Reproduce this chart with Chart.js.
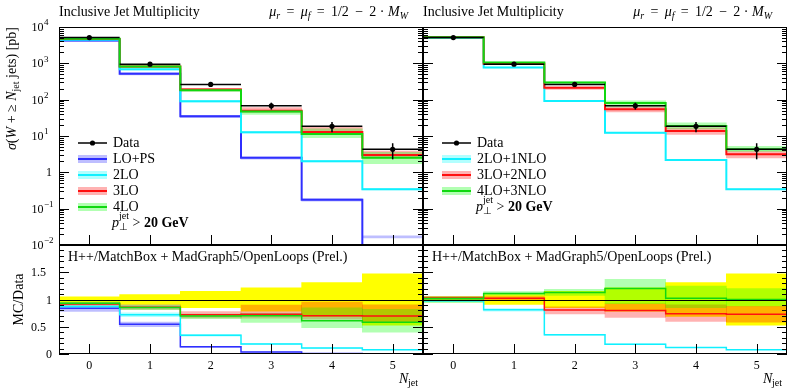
<!DOCTYPE html>
<html>
<head>
<meta charset="utf-8">
<script src="https://cdn.jsdelivr.net/npm/chart.js@4.4.0/dist/chart.umd.min.js"></script>
<style>
html, body { margin: 0; padding: 0; background: #fff; }
#wrap { position: relative; width: 788px; height: 388px; }
#wrap canvas { position: absolute; left: 0; top: 0; }
</style>
</head>
<body>
<div id="wrap">
<canvas id="topLeft" width="788" height="388"></canvas>
<canvas id="topRight" width="788" height="388"></canvas>
<canvas id="ratioLeft" width="788" height="388"></canvas>
<canvas id="ratioRight" width="788" height="388"></canvas>
</div>
<script>
// jet multiplicity bins
var nJet = [0, 1, 2, 3, 4, 5];
// measured cross sections [pb] and relative uncertainty
var dataXsec = [5100, 950, 262, 68, 18.5, 4.3];
var dataRelErr = [0.05, 0.09, 0.15, 0.215, 0.31, 0.47];

// left: LO merging, central values [pb] and scale-variation band (relative)
var loPS = [4280, 518, 34.8, 2.5, 0.176, 0.004];
var loPSLow = [0.93, 0.92, 0.92, 0.92, 0.92, 3.9];
var loPSHigh = [1.04, 1.07, 1.07, 1.07, 1.07, 4.5];
var lo2 = [4440, 684, 90, 12.6, 2.03, 0.344];
var lo2Low = [0.97, 0.95, 0.95, 0.95, 0.95, 0.95];
var lo2High = [1.03, 1.05, 1.05, 1.05, 1.05, 1.05];
var lo3 = [4690, 817, 189, 49.6, 12.95, 3.0];
var lo3Low = [0.97, 0.95, 0.92, 0.90, 0.91, 0.83];
var lo3High = [1.03, 1.05, 1.08, 1.23, 1.36, 1.29];
var lo4 = [4740, 812, 183, 47.6, 11.3, 2.5];
var lo4Low = [0.97, 0.95, 0.93, 0.83, 0.79, 0.69];
var lo4High = [1.03, 1.05, 1.05, 1.07, 1.39, 1.41];

// right: NLO merging
var nlo1 = [4950, 770, 92, 12.2, 2.2, 0.344];
var nlo1Low = [0.97, 0.97, 0.97, 0.97, 0.97, 0.97];
var nlo1High = [1.03, 1.03, 1.03, 1.03, 1.03, 1.03];
var nlo2 = [5250, 970, 212, 54.4, 13.7, 3.14];
var nlo2Low = [0.97, 0.97, 0.91, 0.84, 0.81, 0.80];
var nlo2High = [1.03, 1.03, 1.07, 1.15, 1.22, 1.20];
var nlo3 = [5200, 1055, 296, 81.6, 18.9, 4.3];
var nlo3Low = [0.97, 0.97, 0.95, 0.77, 0.83, 0.88];
var nlo3High = [1.03, 1.03, 1.05, 1.14, 1.22, 1.20];

// axis ticks
var logTicks = [0.01, 0.1, 1, 10, 100, 1000, 10000];
var logTickLabels = [['10', '−2'], ['10', '−1'], ['1', ''], ['10', '1'], ['10', '2'], ['10', '3'], ['10', '4']];
var ratioTicks = [0, 0.5, 1, 1.5];
var ratioTickLabels = ['0', '0.5', '1', '1.5'];

var SERIF = '"Liberation Serif", "Times New Roman", serif';
function font(size, style) { return (style || '') + ' ' + size + 'px ' + SERIF; }

var BLUE = '#2f2fff', CYAN = '#10f0ff', RED = '#ff1010', GREEN = '#10d810';
var leftSeries = [
    {label: 'LO+PS', vals: loPS, low: loPSLow, high: loPSHigh, color: BLUE, band: 'rgba(40,40,255,0.3)'},
    {label: '2LO', vals: lo2, low: lo2Low, high: lo2High, color: CYAN, band: 'rgba(0,255,255,0.3)'},
    {label: '3LO', vals: lo3, low: lo3Low, high: lo3High, color: RED, band: 'rgba(255,0,0,0.3)'},
    {label: '4LO', vals: lo4, low: lo4Low, high: lo4High, color: GREEN, band: 'rgba(0,255,0,0.3)'}
];
var rightSeries = [
    {label: '2LO+1NLO', vals: nlo1, low: nlo1Low, high: nlo1High, color: CYAN, band: 'rgba(0,255,255,0.3)'},
    {label: '3LO+2NLO', vals: nlo2, low: nlo2Low, high: nlo2High, color: RED, band: 'rgba(255,0,0,0.3)'},
    {label: '4LO+3NLO', vals: nlo3, low: nlo3Low, high: nlo3High, color: GREEN, band: 'rgba(0,255,0,0.3)'}
];

function steps(vals) {
    var pts = vals.map(function(v, i) { return {x: nJet[i] - 0.5, y: v}; });
    pts.push({x: nJet[nJet.length - 1] + 0.5, y: vals[vals.length - 1]});
    return pts;
}

function buildSets(series, ratio) {
    var sets = [];
    if (ratio) {
        sets.push({type: 'bar', data: dataRelErr.map(function(e) { return [1 - e, 1 + e]; }),
            backgroundColor: '#ffff00', borderWidth: 0, grouped: false,
            barPercentage: 1, categoryPercentage: 1, order: 20, xAxisID: 'x'});
    }
    series.forEach(function(s, k) {
        var c = ratio ? s.vals.map(function(v, i) { return v / dataXsec[i]; }) : s.vals;
        sets.push({type: 'bar', data: c.map(function(v, i) { return [v * s.low[i], v * s.high[i]]; }),
            backgroundColor: s.band, borderWidth: 0, grouped: false,
            barPercentage: 1, categoryPercentage: 1, order: 10 - k, xAxisID: 'x'});
        sets.push({type: 'line', data: steps(c), borderColor: s.color, borderWidth: ratio ? 1.5 : 2,
            pointRadius: 0, stepped: true, fill: false, order: 5 - k, xAxisID: 'xl'});
    });
    return sets;
}

function line(ctx, x0, y0, x1, y1) {
    ctx.beginPath(); ctx.moveTo(x0, y0); ctx.lineTo(x1, y1); ctx.stroke();
}

// parts: {t, f, dy, stay}
function richText(ctx, parts, x, y, align) {
    var w = 0;
    parts.forEach(function(p) { ctx.font = p.f; if (!p.stay) w += ctx.measureText(p.t).width; });
    var cx = align === 'right' ? x - w : (align === 'center' ? x - w / 2 : x);
    parts.forEach(function(p) {
        ctx.font = p.f;
        ctx.fillText(p.t, cx, y + (p.dy || 0));
        if (!p.stay) cx += ctx.measureText(p.t).width;
    });
}

function frameTicks(chart, log) {
    var ctx = chart.ctx, a = chart.chartArea, y = chart.scales.y, xl = chart.scales.xl;
    ctx.save();
    ctx.strokeStyle = '#000';
    ctx.lineWidth = 1;
    ctx.strokeRect(a.left + 0.5, a.top + 0.5, a.right - a.left - 1, a.bottom - a.top - 1);
    var major = [], minor = [];
    if (log) {
        logTicks.forEach(function(t) { major.push(t); });
        for (var d = -2; d < 4; d++) {
            for (var k = 2; k <= 9; k++) minor.push(k * Math.pow(10, d));
        }
    } else {
        for (var r = 0; r <= 20; r++) {
            if (r % 5 === 0) major.push(r / 10); else minor.push(r / 10);
        }
    }
    major.forEach(function(v) {
        var py = Math.round(y.getPixelForValue(v)) + 0.5;
        line(ctx, a.left, py, a.left + 10, py);
        line(ctx, a.right - 10, py, a.right, py);
    });
    minor.forEach(function(v) {
        var py = Math.round(y.getPixelForValue(v)) + 0.5;
        line(ctx, a.left, py, a.left + 5, py);
        line(ctx, a.right - 5, py, a.right, py);
    });
    nJet.forEach(function(n) {
        var px = Math.round(xl.getPixelForValue(n)) + 0.5;
        line(ctx, px, a.bottom, px, a.bottom - 10);
    });
    ctx.restore();
}

function drawData(chart) {
    var ctx = chart.ctx, y = chart.scales.y, xl = chart.scales.xl;
    ctx.save();
    ctx.strokeStyle = '#000'; ctx.fillStyle = '#000'; ctx.lineWidth = 1.5;
    nJet.forEach(function(n, i) {
        var v = dataXsec[i], e = v * dataRelErr[i];
        var py = y.getPixelForValue(v), xc = xl.getPixelForValue(n);
        line(ctx, xl.getPixelForValue(n - 0.5), py, xl.getPixelForValue(n + 0.5), py);
        line(ctx, xc, y.getPixelForValue(v + e), xc, y.getPixelForValue(v - e));
        ctx.beginPath(); ctx.arc(xc, py, 2.6, 0, Math.PI * 2); ctx.fill();
    });
    ctx.restore();
}

function drawRatioLine(chart) {
    var ctx = chart.ctx, a = chart.chartArea, py = Math.round(chart.scales.y.getPixelForValue(1)) + 0.5;
    ctx.save(); ctx.strokeStyle = '#000'; ctx.lineWidth = 1;
    line(ctx, a.left, py, a.right, py);
    ctx.restore();
}

function titles(ctx, a) {
    ctx.fillStyle = '#000';
    ctx.textBaseline = 'alphabetic';
    ctx.textAlign = 'left';
    ctx.font = font(14);
    ctx.fillText('Inclusive Jet Multiplicity', a.left, 16);
    richText(ctx, [
        {t: 'μ', f: font(14, 'italic')}, {t: 'r', f: font(10, 'italic'), dy: 3},
        {t: ' \u2009=\u2009 ', f: font(14)},
        {t: 'μ', f: font(14, 'italic')}, {t: 'f', f: font(10, 'italic'), dy: 3},
        {t: ' \u2009=\u2009 1/2 \u2009−\u2009 2 · ', f: font(14)},
        {t: 'M', f: font(14, 'italic')}, {t: 'W', f: font(10, 'italic'), dy: 3}
    ], a.right - 15, 16, 'right');
}

function legend(ctx, x0, y0, series) {
    ctx.save();
    ctx.textAlign = 'left'; ctx.textBaseline = 'alphabetic'; ctx.fillStyle = '#000';
    ctx.strokeStyle = '#000'; ctx.lineWidth = 1.5;
    line(ctx, x0, y0, x0 + 29, y0);
    ctx.beginPath(); ctx.arc(x0 + 14.5, y0, 2.6, 0, Math.PI * 2); ctx.fill();
    ctx.font = font(14);
    ctx.fillText('Data', x0 + 35, y0 + 4);
    series.forEach(function(s, k) {
        var yc = y0 + 16 * (k + 1);
        ctx.fillStyle = s.band;
        ctx.fillRect(x0, yc - 4, 29, 8);
        ctx.strokeStyle = s.color; ctx.lineWidth = 2;
        line(ctx, x0, yc, x0 + 29, yc);
        ctx.fillStyle = '#000';
        ctx.font = font(14);
        ctx.fillText(s.label, x0 + 35, yc + 4);
    });
    var yb = y0 + 16 * (series.length + 1) + 4;
    richText(ctx, [
        {t: 'p', f: font(14, 'italic')},
        {t: '⊥', f: font(10), dy: 3, stay: true},
        {t: 'jet', f: font(10), dy: -8},
        {t: ' > ', f: font(14)},
        {t: '20 GeV', f: font(14, 'bold')}
    ], x0 + 34, yb, 'left');
    ctx.restore();
}

function xLabels(ctx, chart) {
    var a = chart.chartArea, xl = chart.scales.xl;
    ctx.fillStyle = '#000'; ctx.textBaseline = 'alphabetic'; ctx.textAlign = 'center';
    ctx.font = font(12);
    nJet.forEach(function(n) { ctx.fillText(String(n), xl.getPixelForValue(n), 369); });
    richText(ctx, [{t: 'N', f: font(14, 'italic')}, {t: 'jet', f: font(10), dy: 3}], a.right, 383, 'right');
    ctx.textAlign = 'left';
    ctx.font = font(14);
    ctx.fillText('H++/MatchBox + MadGraph5/OpenLoops (Prel.)', a.left + 9, 261);
}

function makeChart(id, pad, yScale, sets, after, text) {
    return new Chart(document.getElementById(id), {
        type: 'bar',
        data: {labels: nJet.map(String), datasets: sets},
        options: {
            responsive: false,
            animation: false,
            events: [],
            layout: {padding: pad},
            plugins: {legend: {display: false}, tooltip: {enabled: false}},
            scales: {
                x: {type: 'category', offset: true, display: false},
                xl: {type: 'linear', axis: 'x', position: 'bottom', offset: false, min: -0.5, max: 5.5, display: false},
                y: Object.assign({display: false, stacked: false}, yScale)
            }
        },
        plugins: [{
            id: 'deco',
            afterDatasetsDraw: function(chart) { after(chart); },
            afterDraw: function(chart) { chart.ctx.save(); text(chart.ctx, chart); chart.ctx.restore(); }
        }]
    });
}

var logY = {type: 'logarithmic', min: 0.01, max: 10000};
var ratioY = {type: 'linear', min: 0, max: 2};

makeChart('topLeft', {left: 59, top: 27, right: 365, bottom: 143}, logY, buildSets(leftSeries, false),
    function(chart) { drawData(chart); frameTicks(chart, true); },
    function(ctx, chart) {
        var a = chart.chartArea, y = chart.scales.y;
        titles(ctx, a);
        ctx.fillStyle = '#000'; ctx.textBaseline = 'middle';
        logTicks.forEach(function(t, i) {
            var py = y.getPixelForValue(t) + 1, lab = logTickLabels[i];
            ctx.font = font(12);
            if (lab[1] === '') { ctx.textAlign = 'right'; ctx.fillText(lab[0], 52, py); return; }
            ctx.textAlign = 'right'; ctx.fillText(lab[0], 43.5, py);
            ctx.textAlign = 'left'; ctx.font = font(9); ctx.fillText(lab[1], 44, py - 5);
        });
        ctx.textBaseline = 'alphabetic';
        ctx.save();
        ctx.translate(16, 27);
        ctx.rotate(-Math.PI / 2);
        richText(ctx, [
            {t: 'σ', f: font(14, 'italic')}, {t: '(', f: font(14)},
            {t: 'W', f: font(14, 'italic')}, {t: ' + ≥ ', f: font(14)},
            {t: 'N', f: font(14, 'italic')}, {t: 'jet', f: font(10), dy: 3},
            {t: ' jets) [pb]', f: font(14)}
        ], 0, 0, 'right');
        ctx.restore();
        legend(ctx, 78, 143, leftSeries);
    });

makeChart('topRight', {left: 423, top: 27, right: 1, bottom: 143}, logY, buildSets(rightSeries, false),
    function(chart) { drawData(chart); frameTicks(chart, true); },
    function(ctx, chart) {
        titles(ctx, chart.chartArea);
        legend(ctx, 442, 143, rightSeries);
    });

makeChart('ratioLeft', {left: 59, top: 245, right: 365, bottom: 34}, ratioY, buildSets(leftSeries, true),
    function(chart) { drawRatioLine(chart); frameTicks(chart, false); },
    function(ctx, chart) {
        var y = chart.scales.y;
        xLabels(ctx, chart);
        ctx.textBaseline = 'middle'; ctx.textAlign = 'right'; ctx.font = font(12);
        ratioTicks.forEach(function(t, i) {
            var lab = ratioTickLabels[i];
            ctx.fillText(lab, lab.length > 1 ? 46 : 52, y.getPixelForValue(t) + 1);
        });
        ctx.textBaseline = 'alphabetic';
        ctx.save();
        ctx.translate(22.5, y.getPixelForValue(1));
        ctx.rotate(-Math.PI / 2);
        ctx.textAlign = 'center'; ctx.font = font(14);
        ctx.fillText('MC/Data', 0, 0);
        ctx.restore();
    });

makeChart('ratioRight', {left: 423, top: 245, right: 1, bottom: 34}, ratioY, buildSets(rightSeries, true),
    function(chart) { drawRatioLine(chart); frameTicks(chart, false); },
    function(ctx, chart) { xLabels(ctx, chart); });
</script>
</body>
</html>
